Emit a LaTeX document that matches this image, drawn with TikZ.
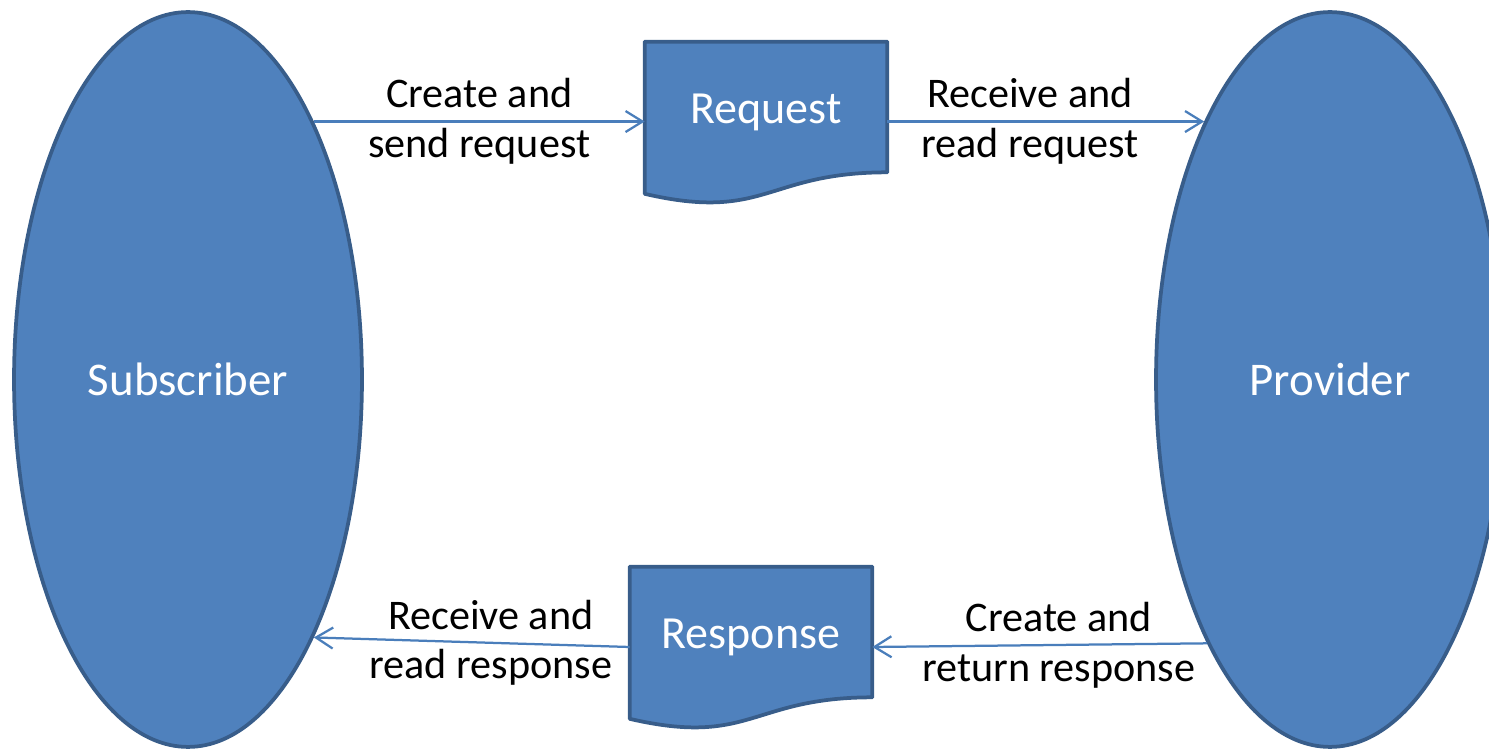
\documentclass[tikz,border=0pt]{standalone}
\usepackage{fontspec}
\setmainfont{Carlito}
\usetikzlibrary{shapes.geometric,arrows.meta,calc,backgrounds}

\definecolor{partyfill}{HTML}{4F81BD}
\definecolor{partyline}{HTML}{385D8A}
\definecolor{msgline}{HTML}{4A7EBB}

\tikzset{
  party/.style={ellipse, fill=partyfill, draw=partyline, line width=0.075cm,
    minimum width=6.96cm, minimum height=14.7cm, text=white,
    font=\fontsize{26.7}{32}\selectfont},
  doc/.style={minimum width=4.84cm, minimum height=2.6cm, inner sep=0pt,
    text height=0.86cm, text depth=0.18cm, text=white, font=\fontsize{26.2}{32}\selectfont},
  docshape/.style={fill=partyfill, draw=partyline, line width=0.075cm, line join=round},
  msg/.style={draw=msgline, line width=0.045cm,
    -{Straight Barb[length=0.34cm,width=0.42cm]}},
  msgtext/.style={align=center, text=black, font=\fontsize{24}{28.4}\selectfont}
}

\begin{document}
\begin{tikzpicture}[x=0.02cm, y=-0.02cm]
\useasboundingbox (0,0) rectangle (1489,749);

% both ends of the exchange
\node[party] (sub) at (188,379.5) {Subscriber};
\node[party] (prov) at (1330,379.5) {Provider};

% the messages
\node[doc] (req) at (766,107) {Request};
\node[doc] (resp) at (751,632) {Response};
\begin{pgfonlayer}{background}
  \foreach \docname in {req,resp}
    \draw[docshape] (\docname.north west) -- (\docname.north east) -- (\docname.south east)
      .. controls (\docname.south) and ($(\docname.south)+(0,49.5)$)
      .. ($(\docname.south west)+(0,21.5)$) -- cycle;
\end{pgfonlayer}

% request goes right, response comes back
\draw[msg] (sub.64.2) -- node[msgtext] {Create and\\send request} (req.west |- sub.64.2);
\draw[msg] (req.east |- prov.116.8) -- node[msgtext, pos=0.45] {Receive and\\read request} (prov.116.8);
\draw[msg] (prov.-115.4) -- node[msgtext, pos=0.443] {Create and\\return response} ($(resp.east)+(0,15)$);
\draw[msg] ($(resp.west)+(0,15)$) -- node[msgtext, pos=0.44] {Receive and\\read response} (sub.-64.8);
\end{tikzpicture}
\end{document}
